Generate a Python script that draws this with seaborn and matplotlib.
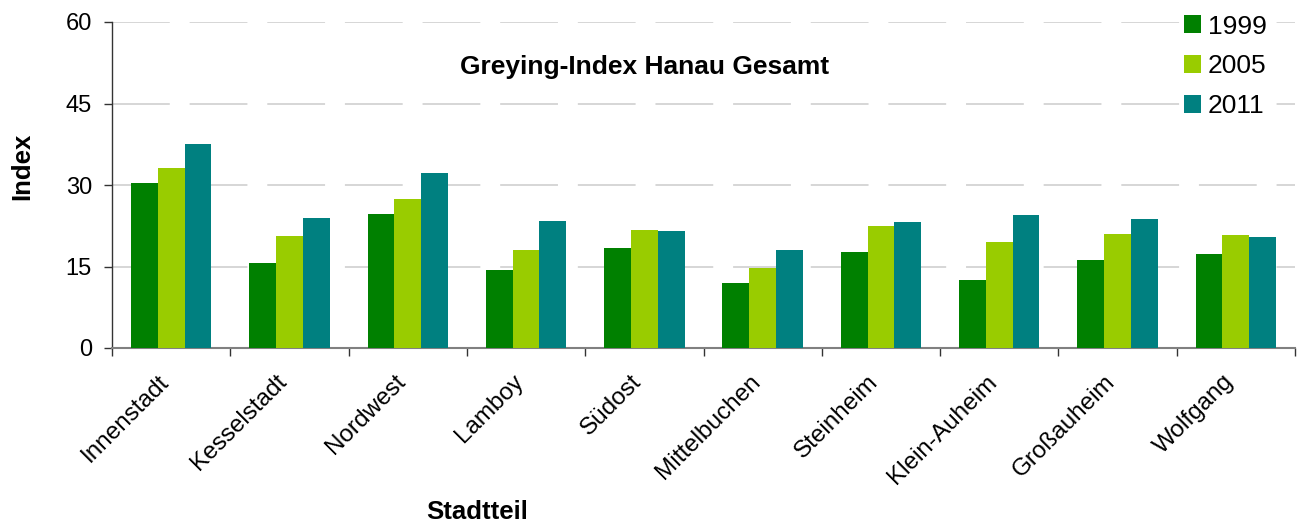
import numpy as np
import pandas as pd
import matplotlib
matplotlib.use("Agg")
import matplotlib.pyplot as plt
import matplotlib.transforms as mtransforms
import seaborn as sns

# DATA.

stadtteile = ["Innenstadt", "Kesselstadt", "Nordwest", "Lamboy", "Südost",
              "Mittelbuchen", "Steinheim", "Klein-Auheim", "Großauheim", "Wolfgang"]
jahre = ["1999", "2005", "2011"]
werte_1999 = [30.4, 15.6, 24.7, 14.3, 18.4, 11.9, 17.6, 12.6, 16.2, 17.3]
werte_2005 = [33.1, 20.6, 27.4, 18.0, 21.7, 14.7, 22.4, 19.5, 21.0, 20.8]
werte_2011 = [37.6, 23.9, 32.2, 23.4, 21.5, 18.0, 23.2, 24.5, 23.7, 20.4]
farben = ["#008000", "#99CC00", "#008080"]

df = pd.DataFrame({
    "Stadtteil": stadtteile * 3,
    "Index": werte_1999 + werte_2005 + werte_2011,
    "Jahr": [j for j in jahre for _ in stadtteile],
})

# STYLE.

sns.set_style("white")
plt.rcParams["font.family"] = ["Liberation Sans", "DejaVu Sans"]
plt.rcParams["text.color"] = "black"
plt.rcParams["xtick.color"] = "black"
plt.rcParams["ytick.color"] = "black"
plt.rcParams["axes.labelcolor"] = "black"

fig = plt.figure(figsize=(13.01, 5.24), dpi=100)
ax = fig.add_axes([112 / 1301, (524 - 348) / 524, 1183 / 1301, 326 / 524])

# BARS.

sns.barplot(data=df, x="Stadtteil", y="Index", hue="Jahr", palette=farben,
            width=0.68, gap=0, saturation=1, errorbar=None, linewidth=0,
            ax=ax, zorder=3)

# AXES.

ax.set_xlim(-0.5, len(stadtteile) - 0.5)
ax.set_ylim(0, 60)
ax.set_yticks([0, 15, 30, 45, 60])
ax.tick_params(axis="y", labelsize=17, length=6, width=1, color="#333333",
               direction="out", left=True, pad=8.5)

# ticks between the groups, labels in the middle
ax.set_xticks(np.arange(-0.5, len(stadtteile)), minor=False)
ax.set_xticklabels([])
ax.set_xticks(np.arange(len(stadtteile)), minor=True)
ax.set_xticklabels(stadtteile, minor=True, rotation=45, ha="right", va="center",
                   rotation_mode="anchor", fontsize=17.5)
ax.tick_params(axis="x", which="major", length=6, width=1, color="#333333",
               direction="out", bottom=True)
ax.tick_params(axis="x", which="minor", length=0, pad=22)
shift = mtransforms.ScaledTranslation(-6 / 100, 0, fig.dpi_scale_trans)
for lab in ax.get_xticklabels(minor=True):
    lab.set_transform(lab.get_transform() + shift)

ax.yaxis.grid(True, color="#d3d3d3", linewidth=1.3, linestyle=(0, (32, 11)), zorder=0)
ax.xaxis.grid(False)
ax.set_axisbelow(True)

for s in ["top", "right"]:
    ax.spines[s].set_visible(False)
ax.spines["left"].set_color("#333333")
ax.spines["bottom"].set_color("#808080")
ax.spines["left"].set_linewidth(1)
ax.spines["bottom"].set_linewidth(1.5)

ax.set_ylabel("Index", fontsize=18.5, fontweight="bold")
ax.yaxis.label.set_va("center")
ax.yaxis.set_label_coords(-0.076, 0.558)
ax.set_xlabel("Stadtteil", fontsize=18.5, fontweight="bold")
ax.xaxis.label.set_va("center")
ax.xaxis.set_label_coords(0.3085, -0.503)

ax.text(0.45, 0.862, "Greying-Index Hanau Gesamt", transform=ax.transAxes,
        ha="center", va="center", fontsize=19, fontweight="bold")

leg = ax.legend(loc="upper left", bbox_to_anchor=((1180 - 112) / 1183, 1.035), fontsize=19,
                frameon=True, facecolor="white", edgecolor="white", framealpha=1,
                handlelength=0.65, handleheight=0.65, handletextpad=0.25,
                labelspacing=0.6, borderpad=0.15, borderaxespad=0)
leg.set_zorder(5)

plt.savefig("out.png", dpi=100)
